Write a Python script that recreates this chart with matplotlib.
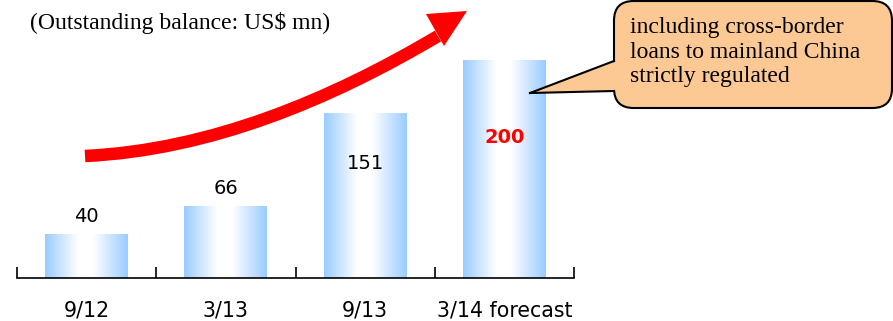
import numpy as np
import matplotlib
matplotlib.use("Agg")
import matplotlib.pyplot as plt
from matplotlib.colors import LinearSegmentedColormap
from matplotlib.patches import Rectangle, FancyBboxPatch, Polygon
from matplotlib.path import Path
from matplotlib.patches import PathPatch

# Outstanding balance, US$ mn
categories = ["9/12", "3/13", "9/13", "3/14 forecast"]
values = [40, 66, 151, 200]
callout_text = "including cross-border\nloans to mainland China\nstrictly regulated"
unit_title = "(Outstanding balance: US$ mn)"

W, H, DPI = 893, 321, 100
fig = plt.figure(figsize=(W / DPI, H / DPI), dpi=DPI)


def fx(px):
    return px / W


def fy(py):
    return 1 - py / H


# axes: baseline at y=278 px, x from 17 to 574 px
ax = fig.add_axes([fx(17), fy(278), fx(574) - fx(17), fy(0) - fy(278)])
ax.set_xlim(-0.5, len(categories) - 0.5)
ax.set_ylim(0, 278 / 1.09)
ax.patch.set_alpha(0)
for s in ("left", "right", "top"):
    ax.spines[s].set_visible(False)
ax.spines["bottom"].set_linewidth(1.2)
ax.set_yticks([])

sans = "DejaVu Sans"
x = np.arange(len(categories))
ax.set_xticks(x)
ax.set_xticklabels(categories, family=sans, fontsize=14.8)
ax.tick_params(axis="x", which="major", length=0, pad=16)
ax.set_xticks(np.arange(len(categories) + 1) - 0.5, minor=True)
ax.tick_params(axis="x", which="minor", direction="in", length=8, width=1.2)

grad_cmap = LinearSegmentedColormap.from_list(
    "bar", [(0, "#99ccff"), (0.4, "#ffffff"), (0.58, "#ffffff"), (1, "#99ccff")])
grad = np.linspace(0, 1, 256).reshape(1, -1)
bw = 0.595
for xi, v in zip(x, values):
    rect = Rectangle((xi - bw / 2, 0), bw, v, facecolor="none", edgecolor="none")
    ax.add_patch(rect)
    im = ax.imshow(grad, cmap=grad_cmap, aspect="auto",
                   extent=(xi - bw / 2, xi + bw / 2, 0, v), zorder=2)
    im.set_clip_path(rect)

# value labels
lab_font = dict(family=sans, fontsize=14, ha="center", va="center")
ax.text(x[0], values[0] + 16, str(values[0]), **lab_font)
ax.text(x[1], values[1] + 16.5, str(values[1]), **lab_font)
ax.text(x[2], values[2] - 46, str(values[2]), **lab_font)
ax.text(x[3], values[3] - 71, str(values[3]), color="#ff0000", fontweight="bold",
        **lab_font)
ax.set_xlim(-0.5, len(categories) - 0.5)
ax.set_ylim(0, 278 / 1.09)

# unit note
fig.text(fx(30), fy(23), unit_title, family="Liberation Serif", fontsize=17,
         ha="left", va="center")

# red trend arrow
p0, p1, p2, p3 = (85, 156), (210, 150), (330, 100), (438, 36)
verts = [(fx(a), fy(b)) for a, b in (p0, p1, p2, p3)]
shaft = PathPatch(Path(verts, [Path.MOVETO, Path.CURVE4, Path.CURVE4, Path.CURVE4]),
                  facecolor="none", edgecolor="#ff0000", lw=9,
                  transform=fig.transFigure, capstyle="butt")
fig.add_artist(shaft)
head = Polygon([(fx(426), fy(14)), (fx(467), fy(11)), (fx(444), fy(46))],
               closed=True, facecolor="#ff0000", edgecolor="none",
               transform=fig.transFigure)
fig.add_artist(head)

# callout bubble
box = FancyBboxPatch((fx(614), fy(108)), fx(278), fy(1) - fy(108),
                     boxstyle="round,pad=0,rounding_size=0.022",
                     facecolor="#fcc994", edgecolor="black", lw=1.5,
                     transform=fig.transFigure, mutation_aspect=W / H)
fig.add_artist(box)
ptr = Polygon([(fx(617), fy(61)), (fx(530), fy(93)), (fx(617), fy(91))],
              closed=True, facecolor="#fcc994", edgecolor="none",
              transform=fig.transFigure)
fig.add_artist(ptr)
for (xa, ya), (xb, yb) in (((614, 61), (530, 93)), ((530, 93), (614, 91))):
    fig.add_artist(plt.Line2D([fx(xa), fx(xb)], [fy(ya), fy(yb)], color="black",
                              lw=1.5, transform=fig.transFigure))
fig.text(fx(630), fy(52), callout_text, family="Liberation Serif", fontsize=17,
         ha="left", va="center", linespacing=1.2)

fig.savefig("out.png", dpi=DPI)
